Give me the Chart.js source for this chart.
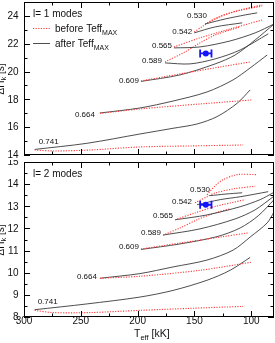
<!DOCTYPE html>
<html><head><meta charset="utf-8">
<script src="https://cdn.jsdelivr.net/npm/chart.js@4"></script>
<style>
html,body{margin:0;padding:0;background:#fff;}
#wrap{position:relative;width:275px;height:343px;overflow:hidden;}
canvas{position:absolute;left:0;top:0;}
</style>
</head><body>
<div id="wrap"><canvas id="c2" width="275" height="343"></canvas><canvas id="c1" width="275" height="343"></canvas></div>
<script>
// ---------- data ----------
const massLabels = ['0.530','0.542','0.565','0.589','0.609','0.664','0.741'];
const xTickValues = [300, 250, 200, 150, 100];
const l1YTicks = [14, 16, 18, 20, 22, 24];
const l2YTicks = [8, 9, 10, 11, 12, 13, 14, 15];

// l = 1 modes: before Teff_MAX (red dotted)
const l1BeforeT = [
  [140.7,125.7,109.8,90.4],
  [150.2,142.3,134.3,118.6,90.4],
  [168.0,145.2,118.6,90.4],
  [175.9,158.3,145.1,131.8,109.8],
  [197.1,162.7,127.4,101.0],
  [233.2,198.0,145.1,99.2],
  [290.6,272.9,242.1,198.0,153.9,107.2]
];
const l1BeforeP = [
  [23.42,24.00,24.43,24.79],
  [22.85,23.28,23.71,24.22,24.72],
  [21.77,22.42,23.06,23.71],
  [20.69,21.41,22.06,22.63,23.21],
  [19.32,19.83,20.33,20.69],
  [16.99,17.31,17.67,17.96],
  [14.36,14.29,14.36,14.58,14.65,14.72]
];
// l = 1 modes: after Teff_MAX (black)
const l1AfterT = [
  [140.7,123.0,105.4,94.8],
  [150.2,131.8,108.0],
  [168.0,145.2,118.6,96.6,79.9],
  [175.9,153.9,131.8,109.8,85.1],
  [197.1,162.7,131.8,114.2,96.6,79.9],
  [233.2,198.0,168.9,139.0,116.0,101.0,86.0],
  [290.6,244.7,198.0,168.9,147.7,130.1,112.4,101.0]
];
const l1AfterP = [
  [23.42,23.78,24.07,24.22],
  [22.78,23.21,23.50],
  [21.70,21.77,22.20,22.78,23.42],
  [20.62,20.55,20.91,21.55,22.71],
  [19.29,19.76,20.55,21.19,22.27,23.42],
  [17.02,17.38,17.88,18.53,19.40,20.26,21.19],
  [14.40,14.84,15.51,15.92,16.23,16.76,17.72,18.68]
];

// l = 2 modes
const l2BeforeT = [
  [138.9,131.8,124.8,112.4,94.8],
  [149.5,138.9,131.8,114.2,96.6],
  [167.1,149.5,131.8,105.4],
  [177.7,162.7,147.7,131.8,118.6],
  [197.1,162.7,127.4,102.7],
  [233.2,198.0,145.1,99.2],
  [290.6,274.7,242.1,198.0,153.9,107.2]
];
const l2BeforeP = [
  [13.52,13.93,14.20,14.43,14.43],
  [13.16,13.43,13.60,13.80,13.90],
  [12.39,12.70,12.99,13.30],
  [11.70,12.02,12.39,12.70,12.89],
  [11.07,11.34,11.61,11.80],
  [9.75,9.84,10.11,10.48],
  [8.30,8.20,8.20,8.30,8.39,8.48]
];
const l2AfterT = [
  [136.3,123.0,108.0],
  [147.7,127.4,109.8,85.1],
  [167.1,138.9,109.8,92.2,80.7],
  [177.7,145.1,114.2,96.6,80.7],
  [197.1,162.7,130.1,109.8,93.9,79.9],
  [233.2,198.0,168.9,139.0,116.0,101.0,86.0,79.9],
  [290.6,244.7,198.0,168.9,138.9,118.6,101.0]
];
const l2AfterP = [
  [13.48,13.55,13.61],
  [13.07,13.30,13.43,13.66],
  [12.39,12.61,12.98,13.30,13.61],
  [11.70,11.98,12.43,12.84,13.43],
  [11.05,11.30,11.63,12.02,12.57,13.30],
  [9.75,9.96,10.26,10.57,11.02,11.61,12.25,12.75],
  [8.33,8.59,8.90,9.20,9.66,10.11,10.69]
];

// observed star
const obsTeff = [140];
const obsTeffErr = [5];
const obsPl1 = [21.3];
const obsPl2 = [13.07];

// ---------- styles ----------
const FONT = '"Liberation Sans", Arial, sans-serif';
const RED = '#ff3a3a';
const BLACK = '#3a3a3a';
const BLUE = '#1414ff';

function pts(T, P) { return T.map((t, i) => ({ x: t, y: P[i] })); }

function buildDatasets(bT, bP, aT, aP) {
  const ds = [];
  for (let i = 0; i < massLabels.length; i++) {
    ds.push({ label: 'before ' + massLabels[i], data: pts(bT[i], bP[i]), showLine: true,
      borderColor: RED, borderWidth: 1.1, borderDash: [1.2, 1.4], pointRadius: 0, tension: 0.3, fill: false });
    ds.push({ label: 'after ' + massLabels[i], data: pts(aT[i], aP[i]), showLine: true,
      borderColor: BLACK, borderWidth: 0.9, pointRadius: 0, tension: 0.3, fill: false });
  }
  return ds;
}

function drawParts(ctx, x, y, parts) {
  let cx = x;
  for (const p of parts) {
    ctx.font = p.size + 'px ' + FONT;
    ctx.fillText(p.t, cx, y + (p.dy || 0));
    cx += ctx.measureText(p.t).width;
  }
  return cx;
}

function panelPlugin(cfg) {
  return {
    id: 'panel' + cfg.n,
    afterDatasetsDraw(chart) {
      const { ctx, chartArea: a, scales: { x, y } } = chart;
      ctx.save();
      ctx.fillStyle = '#111';
      ctx.strokeStyle = '#000';
      ctx.lineWidth = 1;
      // frame
      ctx.strokeRect(Math.round(a.left) + 0.5, Math.round(a.top) + 0.5,
        Math.round(a.right - a.left) - 1, Math.round(a.bottom - a.top) - 1);
      // x ticks (top and bottom, inward)
      ctx.beginPath();
      for (let v = 100; v <= 300; v += 25) {
        const px = Math.round(x.getPixelForValue(v)) + 0.5;
        const len = (v % 50 === 0) ? 6 : 3.5;
        ctx.moveTo(px, a.bottom); ctx.lineTo(px, a.bottom - len);
        ctx.moveTo(px, a.top); ctx.lineTo(px, a.top + len);
      }
      // y ticks (left and right, inward)
      for (let v = y.min; v <= y.max + 1e-6; v += cfg.minorStep) {
        const py = Math.round(y.getPixelForValue(v)) + 0.5;
        const major = Math.abs((v - y.min) / cfg.majorStep - Math.round((v - y.min) / cfg.majorStep)) < 1e-6;
        const len = major ? 6 : 3.5;
        ctx.moveTo(a.left, py); ctx.lineTo(a.left + len, py);
        ctx.moveTo(a.right, py); ctx.lineTo(a.right - len, py);
      }
      ctx.stroke();

      // y tick labels
      ctx.save();
      ctx.beginPath(); ctx.rect(0, cfg.clipTop, 275, 343 - cfg.clipTop); ctx.clip();
      ctx.font = '10px ' + FONT;
      ctx.textAlign = 'right'; ctx.textBaseline = 'middle';
      for (const v of cfg.yTicks) ctx.fillText(String(v), a.left - 5.5, y.getPixelForValue(v) + 0.5);
      ctx.restore();

      // x tick labels + title
      if (cfg.showX) {
        ctx.font = '10px ' + FONT;
        ctx.textAlign = 'center'; ctx.textBaseline = 'middle';
        for (const v of xTickValues) ctx.fillText(String(v), x.getPixelForValue(v), a.bottom + 4.5);
        ctx.textAlign = 'left'; ctx.textBaseline = 'alphabetic';
        drawParts(ctx, 134, 337, [{ t: 'T', size: 10.5 }, { t: 'eff', size: 7.5, dy: 2.5 }, { t: ' [kK]', size: 10.5 }]);
      }

      // y axis title (rotated, partly clipped at left edge)
      ctx.save();
      ctx.translate(3.5, (a.top + a.bottom) / 2 + 16);
      ctx.rotate(-Math.PI / 2);
      ctx.textAlign = 'left'; ctx.textBaseline = 'alphabetic';
      drawParts(ctx, 0, 0, [{ t: 'ΔΠ', size: 10 }, { t: 'k', size: 7.5, dy: 2.5 }, { t: ' [s]', size: 10 }]);
      ctx.restore();

      // mass labels at the start of each track
      ctx.font = '8px ' + FONT;
      ctx.textAlign = 'right'; ctx.textBaseline = 'middle';
      for (let i = 0; i < massLabels.length; i++) {
        const px = x.getPixelForValue(cfg.bT[i][0]);
        const py = y.getPixelForValue(cfg.bP[i][0]);
        const o = cfg.labelOffsets[i];
        ctx.fillText(massLabels[i], px + o[0], py + o[1]);
      }

      // panel title
      ctx.textAlign = 'left'; ctx.textBaseline = 'middle';
      ctx.font = '10px ' + FONT;
      ctx.fillText(cfg.title, a.left + 9, a.top + 12);

      // legend (top panel)
      if (cfg.legend) {
        ctx.save();
        ctx.strokeStyle = RED; ctx.lineWidth = 1.1; ctx.setLineDash([1.2, 1.4]);
        ctx.beginPath(); ctx.moveTo(a.left + 9, a.top + 26.5); ctx.lineTo(a.left + 26, a.top + 26.5); ctx.stroke();
        ctx.setLineDash([]); ctx.strokeStyle = BLACK; ctx.lineWidth = 0.9;
        ctx.beginPath(); ctx.moveTo(a.left + 9, a.top + 41.5); ctx.lineTo(a.left + 26, a.top + 41.5); ctx.stroke();
        ctx.restore();
        ctx.textBaseline = 'alphabetic';
        drawParts(ctx, a.left + 31, a.top + 30, [{ t: 'before Teff', size: 10 }, { t: 'MAX', size: 7, dy: 2.5 }]);
        drawParts(ctx, a.left + 31, a.top + 45, [{ t: 'after Teff', size: 10 }, { t: 'MAX', size: 7, dy: 2.5 }]);
      }

      // observed star with Teff error bar
      for (let k = 0; k < obsTeff.length; k++) {
        const cx = x.getPixelForValue(obsTeff[k]);
        const cy = y.getPixelForValue(cfg.obsP[k]);
        const xl = x.getPixelForValue(obsTeff[k] + obsTeffErr[k]);
        const xr = x.getPixelForValue(obsTeff[k] - obsTeffErr[k]);
        ctx.strokeStyle = BLUE; ctx.fillStyle = BLUE; ctx.lineWidth = 1.8;
        ctx.beginPath();
        ctx.moveTo(xl, cy); ctx.lineTo(xr, cy);
        ctx.moveTo(xl, cy - 4); ctx.lineTo(xl, cy + 4);
        ctx.moveTo(xr, cy - 4); ctx.lineTo(xr, cy + 4);
        ctx.stroke();
        ctx.beginPath(); ctx.arc(cx, cy, 3, 0, Math.PI * 2); ctx.fill();
      }
      ctx.restore();
    }
  };
}

function makeChart(id, cfg) {
  return new Chart(document.getElementById(id), {
    type: 'scatter',
    data: { datasets: buildDatasets(cfg.bT, cfg.bP, cfg.aT, cfg.aP) },
    options: {
      responsive: false, animation: false, devicePixelRatio: 1,
      layout: { padding: cfg.padding },
      plugins: { legend: { display: false }, tooltip: { enabled: false } },
      scales: {
        x: { type: 'linear', min: 80, max: 300, reverse: true, display: false },
        y: { type: 'linear', min: cfg.yMin, max: cfg.yMax, display: false }
      }
    },
    plugins: [panelPlugin(cfg)]
  });
}

makeChart('c2', {
  n: 2, bT: l2BeforeT, bP: l2BeforeP, aT: l2AfterT, aP: l2AfterP,
  yMin: 8, yMax: 15, minorStep: 0.5, majorStep: 1, yTicks: l2YTicks,
  padding: { left: 24, right: 1, top: 162, bottom: 26 },
  showX: true, legend: false, title: 'l= 2 modes', obsP: obsPl2, clipTop: 160,
  labelOffsets: [[3, -5], [-3, -1], [-2, -3.5], [-2, -2.5], [-2, -2.5], [-3, -1], [23, -9]]
});
makeChart('c1', {
  n: 1, bT: l1BeforeT, bP: l1BeforeP, aT: l1AfterT, aP: l1AfterP,
  yMin: 14, yMax: 25, minorStep: 1, majorStep: 2, yTicks: l1YTicks,
  padding: { left: 24, right: 1, top: 2, bottom: 188 },
  showX: false, legend: true, title: 'l= 1 modes', obsP: obsPl1, clipTop: 0,
  labelOffsets: [[2, -8.5], [-2, 0], [-2, -1.5], [-3, -1], [-2, 0], [-5, 1.5], [24, -8.5]]
});
</script>
</body></html>
